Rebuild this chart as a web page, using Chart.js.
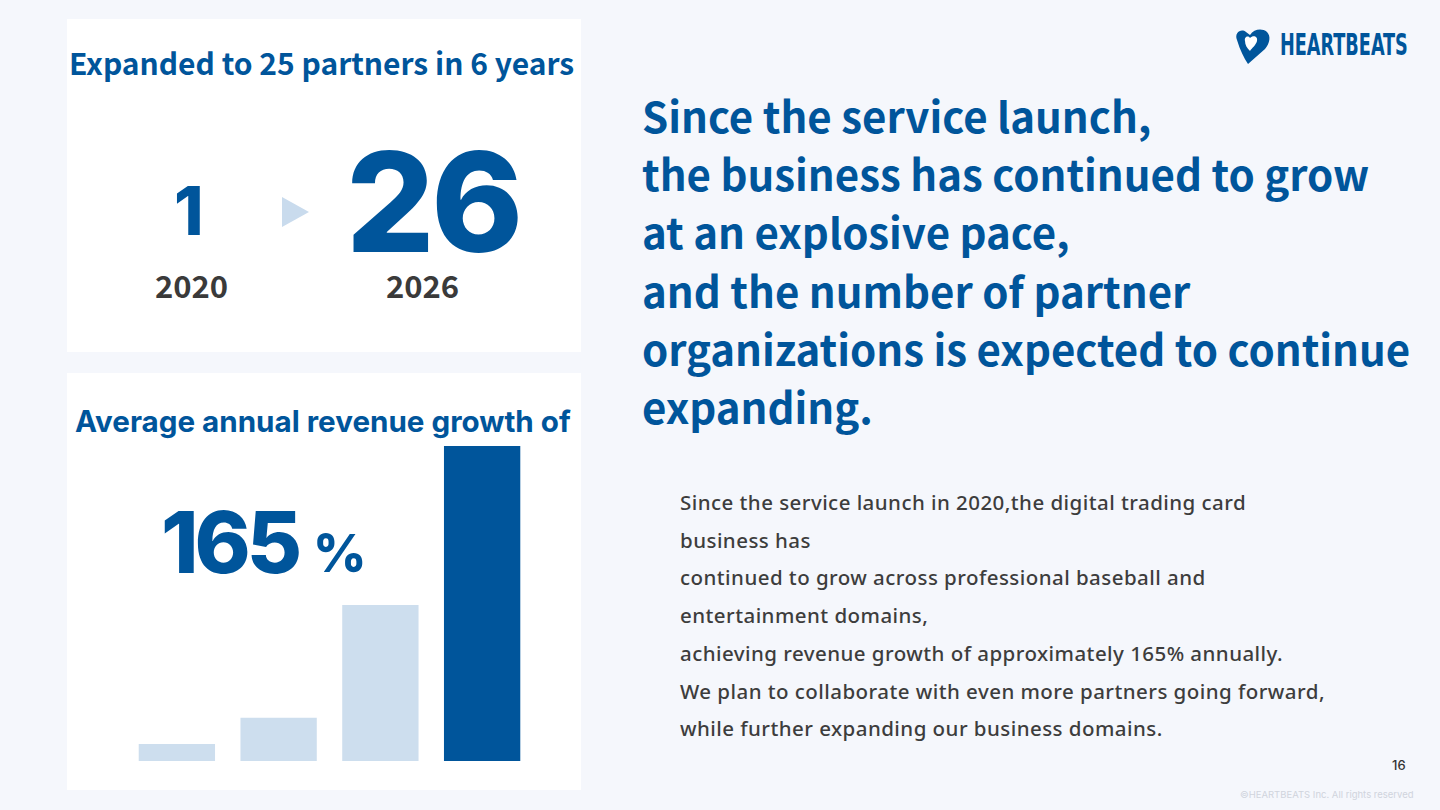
<!DOCTYPE html>
<html>
<head>
<meta charset="utf-8">
<script src="https://cdn.jsdelivr.net/npm/chart.js@4.4.1/dist/chart.umd.min.js"></script>
<style>
  html, body { margin:0; padding:0; }
  body { width:1440px; height:810px; background:#f5f7fc; position:relative; overflow:hidden; font-family:"Noto Sans", sans-serif; }
  .card { position:absolute; background:#ffffff; }
  .abs { position:absolute; white-space:nowrap; }
  .blue { color:#00559b; }
  .jp { font-family:"Noto Sans CJK JP", "Noto Sans", sans-serif; font-weight:700; }
  .inter { font-family:Inter, "Noto Sans", sans-serif; }
</style>
</head>
<body>
<div class="card" style="left:67px;top:19px;width:514px;height:333px;"></div>
<div class="card" style="left:67px;top:373px;width:514px;height:417px;"></div>

<!-- top card -->
<div class="abs jp blue" style="left:69px;top:40px;font-size:30px;line-height:44px;">Expanded to 25 partners in 6 years</div>
<div class="abs inter blue" style="left:174px;top:176px;font-size:67px;font-weight:800;line-height:70px;">1</div>
<svg class="abs" style="left:282px;top:197px;" width="30" height="32"><polygon points="0,0 27,15 0,30" fill="#c9dbed"/></svg>
<div class="abs inter blue" style="left:346px;top:142px;font-size:139px;font-weight:800;letter-spacing:-3.5px;line-height:120px;">26</div>
<div class="abs jp" style="left:155px;top:266px;font-size:31px;color:#3a3a3a;line-height:38px;">2020</div>
<div class="abs jp" style="left:386px;top:266px;font-size:31px;color:#3a3a3a;line-height:38px;">2026</div>

<!-- bottom card -->
<div class="abs inter blue" style="left:75px;top:402px;font-size:29.6px;font-weight:700;line-height:38px;">Average annual revenue growth of</div>
<canvas id="c" class="abs" width="407" height="315" style="left:126px;top:446px;width:407px;height:315px;"></canvas>
<div class="abs inter blue" style="left:161px;top:498px;font-size:85px;font-weight:800;letter-spacing:-4px;line-height:90px;">165</div>
<div class="abs inter blue" style="left:313px;top:524px;font-size:52px;font-weight:800;line-height:60px;">%</div>

<!-- right heading -->
<div class="abs jp blue" style="left:642px;top:86px;font-size:42px;line-height:58.2px;">
Since the service launch,<br>
the business has continued to grow<br>
at an explosive pace,<br>
and the number of partner<br>
organizations is expected to continue<br>
expanding.
</div>

<!-- body text -->
<div class="abs" style="left:680px;top:484px;font-family:'Noto Sans',sans-serif;font-weight:500;font-size:20.5px;letter-spacing:0.45px;line-height:37.7px;color:#3d3d3d;">
Since the service launch in 2020,the digital trading card<br>
business has<br>
continued to grow across professional baseball and<br>
entertainment domains,<br>
achieving revenue growth of approximately 165% annually.<br>
We plan to collaborate with even more partners going forward,<br>
while further expanding our business domains.
</div>

<!-- logo -->
<svg class="abs" style="left:1232px;top:26px;" width="42" height="42">
  <path d="M5,14 C2,7 9,2 14,6 L18,9 C22,3 30,2 35,6 C39,10 38,17 33,23 L16,38 C12,32 8,24 5,14 Z" fill="#00559b"/>
  <path d="M13,15 C12,11 16,9 18,12 C21,9 26,10 25,15 C24,19 20,22 18,25 C15,22 13,19 13,15 Z" fill="#ffffff"/>
</svg>
<div class="abs" style="left:1280px;top:29px;font-family:'DejaVu Sans Condensed','DejaVu Sans',sans-serif;font-weight:700;font-size:30px;line-height:32px;color:#00559b;transform:scaleX(0.655);transform-origin:0 0;">HEARTBEATS</div>

<div class="abs inter" style="left:1392px;top:757px;font-size:13px;font-weight:500;color:#333;">16</div>
<div class="abs inter" style="left:1240px;top:789px;font-size:9.5px;color:#d0d4dc;">©HEARTBEATS Inc. All rights reserved</div>

<script>
const categories = ["Y1", "Y2", "Y3", "Y4"];
const revenueValues = [5.4, 13.7, 49.5, 100];
const barColors = ["#cddeee", "#cddeee", "#cddeee", "#00559b"];

new Chart(document.getElementById("c"), {
  type: "bar",
  data: {
    labels: categories,
    datasets: [{
      data: revenueValues,
      backgroundColor: barColors,
      borderWidth: 0,
      barPercentage: 0.75,
      categoryPercentage: 1.0
    }]
  },
  options: {
    responsive: false,
    animation: false,
    devicePixelRatio: 1,
    layout: { padding: 0 },
    plugins: { legend: { display: false }, tooltip: { enabled: false } },
    scales: {
      x: { display: false },
      y: { display: false, min: 0, max: 100 }
    }
  }
});
</script>
</body>
</html>
